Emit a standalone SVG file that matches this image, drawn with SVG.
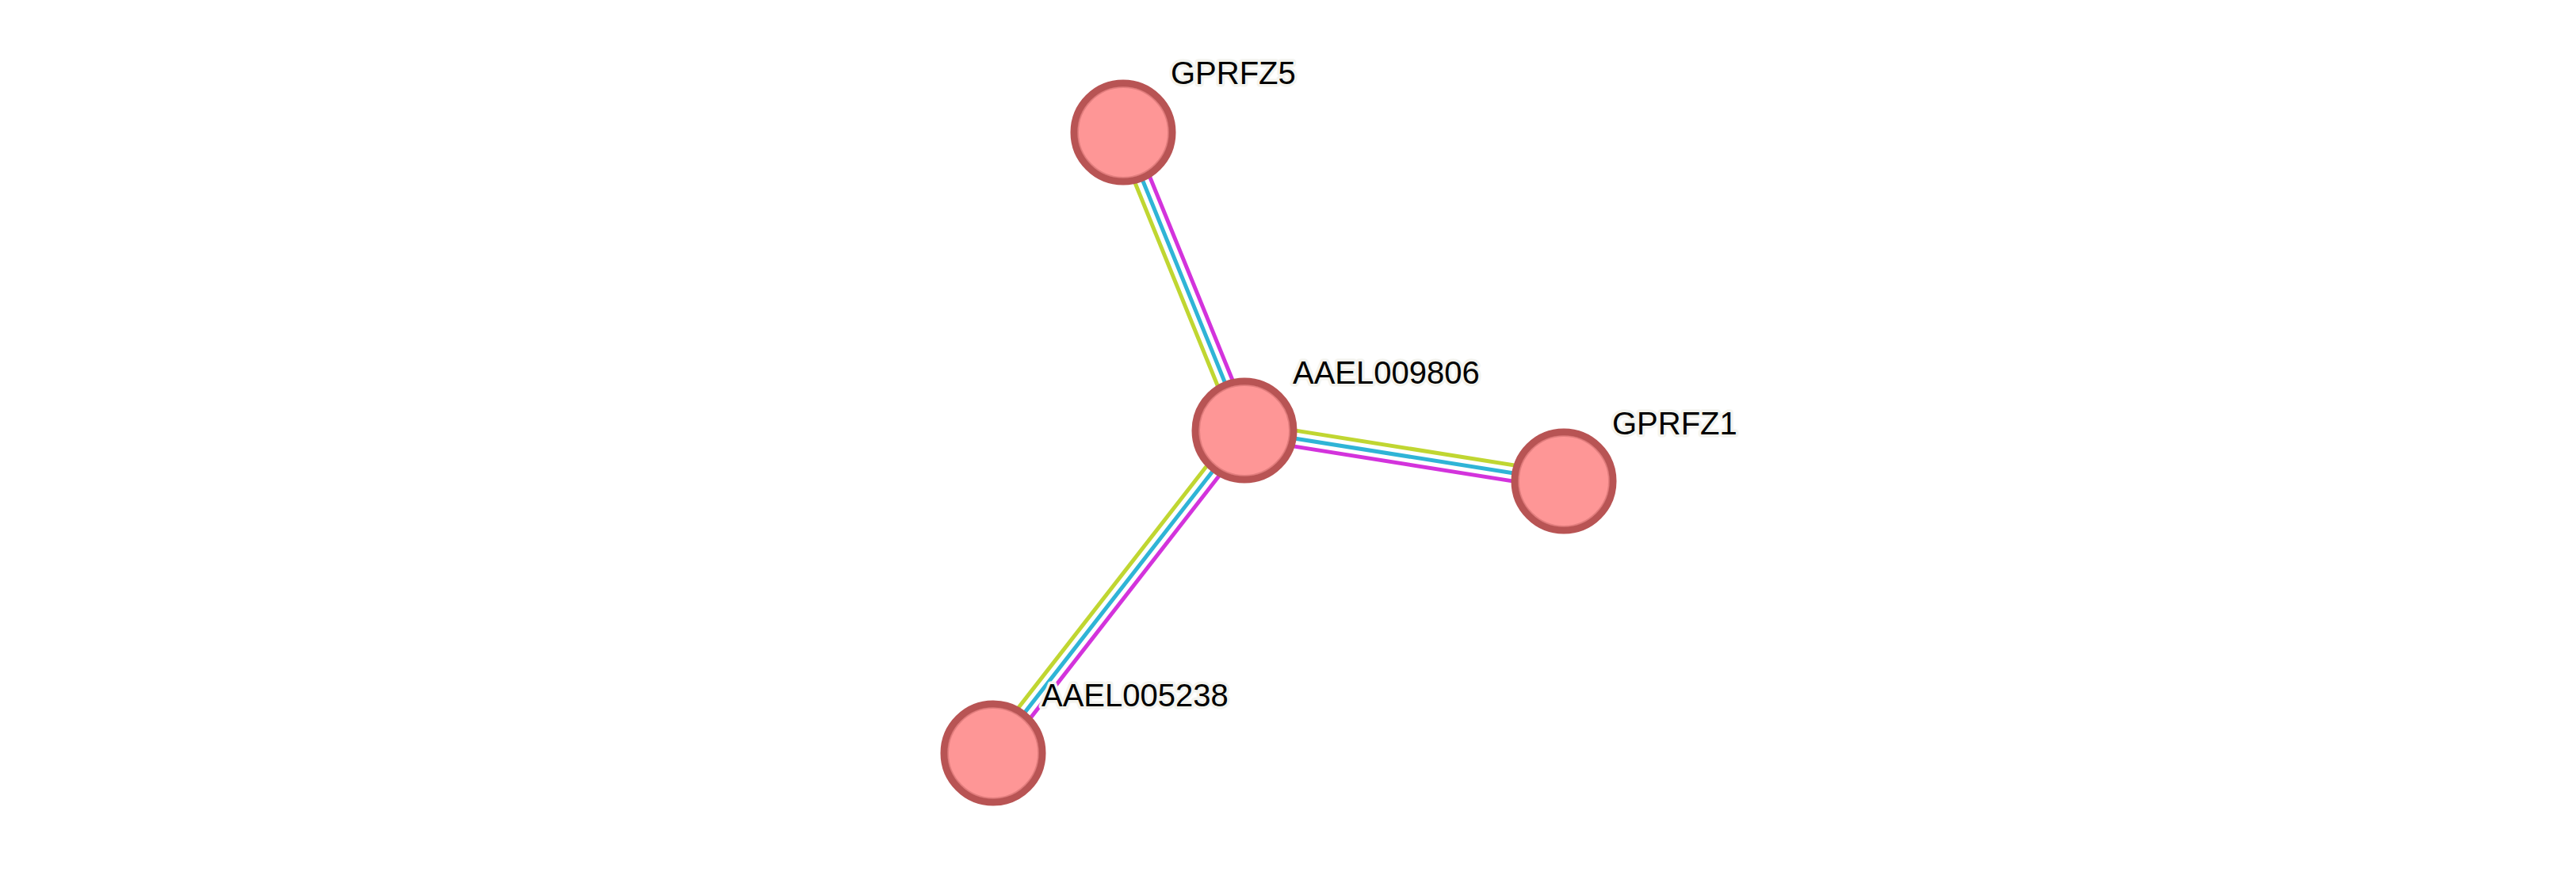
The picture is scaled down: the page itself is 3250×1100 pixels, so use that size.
<svg xmlns="http://www.w3.org/2000/svg" width="3250" height="1100" viewBox="0 0 3250 1100">
<style>
.bg{fill:#ffffff}
.e{fill:none;stroke-width:5}
.g{stroke:#c0d631}
.b{stroke:#2fb4d6}
.m{stroke:#d333dc}
.n{fill:#fe9696;stroke:#b85454;stroke-width:9}
.in{fill:none;stroke:#d06e6e;stroke-width:2;opacity:0.6}
.t{font-family:"Liberation Sans",Arial,sans-serif;font-size:40px;fill:#000;stroke:#f4f4ef;stroke-width:7;paint-order:stroke;stroke-linejoin:round}
</style>
<rect class="bg" x="0" y="0" width="3250" height="1100"/>
<g id="connectors">
<g id="e-AAEL009806-GPRFZ1">
<line class="e g" x1="1571.6" y1="533.1" x2="1974.6" y2="597.1"/>
<line class="e b" x1="1570" y1="543" x2="1973" y2="607"/>
<line class="e m" x1="1568.4" y1="552.9" x2="1971.4" y2="616.9"/>
</g>
<g id="e-AAEL009806-GPRFZ5">
<line class="e g" x1="1560.7" y1="546.8" x2="1407.7" y2="170.8"/>
<line class="e b" x1="1570" y1="543" x2="1417" y2="167"/>
<line class="e m" x1="1579.3" y1="539.2" x2="1426.3" y2="163.2"/>
</g>
<g id="e-AAEL009806-AAEL005238">
<line class="e g" x1="1562.1" y1="536.9" x2="1245.1" y2="943.9"/>
<line class="e b" x1="1570" y1="543" x2="1253" y2="950"/>
<line class="e m" x1="1577.9" y1="549.1" x2="1260.9" y2="956.1"/>
</g>
</g>
<g id="node-GPRFZ5">
<circle class="n" cx="1417" cy="167" r="62"/>
<circle class="in" cx="1417" cy="167" r="57"/>
<text class="t" x="1477" y="106">GPRFZ5</text>
</g>
<g id="node-AAEL009806">
<circle class="n" cx="1570" cy="543" r="62"/>
<circle class="in" cx="1570" cy="543" r="57"/>
<text class="t" x="1631" y="484">AAEL009806</text>
</g>
<g id="node-GPRFZ1">
<circle class="n" cx="1973" cy="607" r="62"/>
<circle class="in" cx="1973" cy="607" r="57"/>
<text class="t" x="2034" y="548">GPRFZ1</text>
</g>
<g id="node-AAEL005238">
<circle class="n" cx="1253" cy="950" r="62"/>
<circle class="in" cx="1253" cy="950" r="57"/>
<text class="t" x="1314" y="891">AAEL005238</text>
</g>
</svg>
